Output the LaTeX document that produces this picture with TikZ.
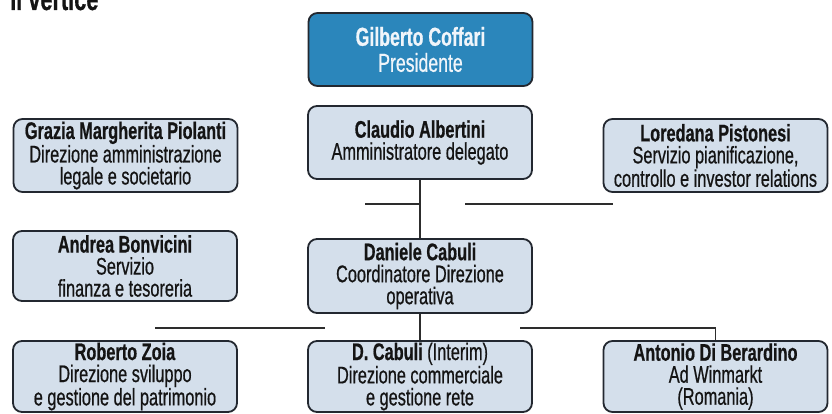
\documentclass[tikz,border=0pt]{standalone}
\usepackage{fontspec}
\setmainfont[FakeStretch=0.68, FakeBold=0.6]{Liberation Sans}
\definecolor{ink}{RGB}{20,20,20}
\definecolor{rim}{RGB}{35,40,48}
\definecolor{wire}{RGB}{45,45,45}
\definecolor{pale}{RGB}{212,223,235}
\definecolor{chief}{RGB}{43,134,187}
\definecolor{chieftext}{RGB}{240,245,250}
\tikzset{
  every picture/.style={color=ink, x=1pt, y=-1pt},
  role/.style={draw=rim, line width=1.8pt, rounded corners=9pt, fill=pale, text=ink, minimum width=224pt, minimum height=73pt, inner sep=0pt, align=center, font=\fontsize{24}{22}\selectfont},
  head/.style={role, fill=chief, text=chieftext, font=\fontsize{26}{26}\selectfont},
  wire/.style={draw=wire, line width=1.4pt},
  title/.style={font=\fontsize{32}{32}\selectfont\bfseries, anchor=base west, inner sep=0pt},
}

\begin{document}
\begin{tikzpicture}
  \useasboundingbox (0,0) rectangle (832,414);
  \clip (0,0) rectangle (832,414);
  \node[title] (heading) at (10,10) {Il vertice};
  % top of the chart
  \node[head] (coffari) at (420.5,49.5) {\textbf{Gilberto Coffari}\\ Presidente};
  \node[role] (albertini) at (420,142.5) {\textbf{Claudio Albertini}\\ Amministratore delegato};
  \node[role] (piolanti) at (125.5,155.5) {\textbf{Grazia Margherita Piolanti}\\ Direzione amministrazione\\ legale e societario};
  \node[role] (pistonesi) at (715.5,155.5) {\textbf{Loredana Pistonesi}\\ Servizio pianificazione,\\ controllo e investor relations};
  % middle row
  \node[role, minimum height=70pt] (bonvicini) at (125,266) {\textbf{Andrea Bonvicini}\\ Servizio\\ finanza e tesoreria};
  \node[role, minimum height=74pt] (cabuli) at (420,276) {\textbf{Daniele Cabuli}\\ Coordinatore Direzione\\ operativa};
  % bottom row
  \node[role, minimum height=71pt] (zoia) at (125,376.5) {\textbf{Roberto Zoia}\\ Direzione sviluppo\\ e gestione del patrimonio};
  \node[role, minimum height=71pt] (interim) at (420,376.5) {\textbf{D. Cabuli} (Interim)\\ Direzione commerciale\\ e gestione rete};
  \node[role, minimum height=71pt] (berardino) at (715.5,376.5) {\textbf{Antonio Di Berardino}\\ Ad Winmarkt\\ (Romania)};
  % connectors
  \coordinate (splitL) at (365,204);
  \coordinate (splitR) at (465,204);
  \coordinate (splitE) at (613,204);
  \coordinate (lowL) at (155,328);
  \coordinate (lowM) at (325,328);
  \coordinate (lowR) at (520,328);
  \draw[wire] (albertini) -- (cabuli);
  \draw[wire] (splitL) -- (splitL -| albertini.south);
  \draw[wire] (splitR) -- (splitE);
  \draw[wire] (cabuli) -- (interim);
  \draw[wire] (lowL) -- (lowM);
  \draw[wire] (lowR) -| (berardino.north);
\end{tikzpicture}
\end{document}
